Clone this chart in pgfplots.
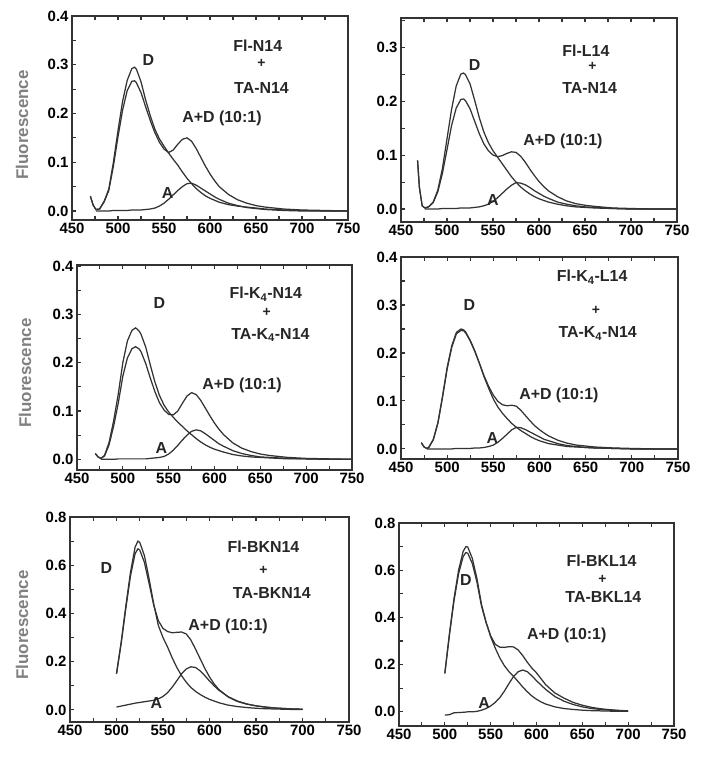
\documentclass[border=0pt]{standalone}
\usepackage{fontspec}
\setmainfont{Liberation Sans}
\usepackage{pgfplots}
\usepackage{pgfplotstable}
\pgfplotsset{compat=1.18}

\pgfplotstableread{
x D AD A
470 0.030 0.030 nan
473 0.012 0.012 nan
476 0.003 0.003 0.000
480 0.004 0.004 0.000
485 0.020 0.019 0.000
490 0.045 0.042 0.000
495 0.100 0.092 0.001
500 0.165 0.152 0.001
505 0.225 0.207 0.001
510 0.268 0.247 0.001
515 0.292 0.266 0.002
518 0.295 0.267 0.002
520 0.291 0.263 0.002
525 0.265 0.243 0.002
530 0.228 0.214 0.003
535 0.196 0.186 0.004
540 0.168 0.161 0.006
545 0.148 0.141 0.010
550 0.133 0.127 0.016
555 0.119 0.120 0.024
560 0.106 0.125 0.033
565 0.094 0.137 0.042
570 0.080 0.147 0.050
575 0.067 0.150 0.056
580 0.056 0.143 0.057
585 0.046 0.128 0.053
590 0.038 0.110 0.047
595 0.031 0.092 0.041
600 0.026 0.076 0.035
605 0.022 0.062 0.029
610 0.018 0.050 0.024
620 0.013 0.034 0.016
630 0.010 0.023 0.011
640 0.008 0.016 0.007
650 0.006 0.011 0.005
660 0.004 0.008 0.003
680 0.002 0.004 0.001
700 0.001 0.002 0.000
725 0.000 0.001 0.000
750 0.000 0.000 0.000
}\tabA

\pgfplotstableread{
x D AD A
468 0.090 0.090 nan
470 0.040 0.040 nan
473 0.006 0.006 nan
476 0.002 0.002 0.000
480 0.004 0.004 0.000
485 0.013 0.012 0.000
490 0.035 0.032 0.000
495 0.075 0.066 0.001
500 0.130 0.110 0.001
505 0.185 0.155 0.001
510 0.228 0.187 0.001
515 0.250 0.203 0.002
518 0.252 0.204 0.002
520 0.249 0.201 0.002
525 0.232 0.186 0.002
530 0.202 0.163 0.003
535 0.170 0.140 0.004
540 0.143 0.121 0.006
545 0.123 0.108 0.009
550 0.108 0.100 0.014
555 0.096 0.097 0.021
560 0.084 0.099 0.029
565 0.072 0.103 0.037
570 0.060 0.106 0.044
575 0.050 0.105 0.049
580 0.041 0.098 0.048
585 0.034 0.087 0.045
590 0.028 0.074 0.040
595 0.023 0.062 0.034
600 0.019 0.051 0.029
605 0.016 0.042 0.024
610 0.013 0.034 0.020
620 0.009 0.023 0.013
630 0.006 0.015 0.009
640 0.004 0.010 0.006
650 0.003 0.007 0.004
660 0.002 0.005 0.003
680 0.001 0.002 0.001
700 0.000 0.001 0.000
725 0.000 0.000 0.000
750 0.000 0.000 0.000
}\tabB

\pgfplotstableread{
x D AD A
470 0.012 0.012 nan
473 0.005 0.005 nan
476 0.002 0.002 0.000
480 0.008 0.007 0.000
485 0.035 0.030 0.000
490 0.080 0.069 0.000
495 0.135 0.116 0.001
500 0.200 0.172 0.001
505 0.245 0.210 0.001
510 0.267 0.229 0.001
514 0.272 0.233 0.001
518 0.265 0.228 0.001
520 0.258 0.222 0.001
525 0.232 0.198 0.001
530 0.195 0.168 0.002
535 0.160 0.140 0.003
540 0.132 0.117 0.004
545 0.112 0.102 0.006
550 0.098 0.093 0.011
555 0.087 0.092 0.019
560 0.077 0.100 0.029
565 0.068 0.116 0.040
570 0.059 0.131 0.050
575 0.051 0.138 0.058
580 0.043 0.134 0.061
585 0.036 0.122 0.059
590 0.030 0.106 0.053
595 0.025 0.090 0.046
600 0.021 0.075 0.039
605 0.018 0.062 0.032
610 0.015 0.051 0.027
620 0.010 0.034 0.018
630 0.007 0.023 0.012
640 0.005 0.016 0.008
650 0.004 0.011 0.005
660 0.003 0.008 0.004
680 0.001 0.004 0.002
700 0.001 0.002 0.001
725 0.000 0.001 0.000
750 0.000 0.000 0.000
}\tabC

\pgfplotstableread{
x D AD A
472 0.013 0.013 nan
475 0.004 0.004 nan
478 0.001 0.001 0.000
480 0.003 0.003 0.000
485 0.020 0.019 0.000
490 0.055 0.054 0.000
495 0.110 0.108 0.000
500 0.170 0.167 0.000
505 0.215 0.212 0.000
510 0.243 0.240 0.001
515 0.250 0.247 0.001
518 0.248 0.246 0.001
520 0.244 0.242 0.001
525 0.226 0.225 0.001
530 0.204 0.203 0.002
535 0.178 0.178 0.002
540 0.150 0.152 0.003
545 0.126 0.130 0.005
550 0.104 0.112 0.008
555 0.087 0.099 0.014
560 0.074 0.092 0.022
565 0.063 0.090 0.031
570 0.053 0.091 0.040
575 0.045 0.089 0.045
580 0.038 0.080 0.044
585 0.032 0.069 0.040
590 0.026 0.058 0.035
595 0.021 0.048 0.030
600 0.017 0.040 0.025
605 0.014 0.033 0.020
610 0.011 0.027 0.017
620 0.008 0.018 0.011
630 0.005 0.012 0.007
640 0.004 0.008 0.005
650 0.003 0.006 0.003
660 0.002 0.004 0.002
680 0.001 0.002 0.001
700 0.000 0.001 0.000
725 0.000 0.000 0.000
750 0.000 0.000 0.000
}\tabD

\pgfplotstableread{
x D AD A
500 0.150 0.150 0.012
505 0.280 0.275 0.016
510 0.430 0.420 0.020
515 0.570 0.555 0.024
520 0.675 0.648 0.028
523 0.700 0.668 0.030
525 0.695 0.663 0.031
530 0.640 0.612 0.034
535 0.545 0.525 0.037
540 0.440 0.435 0.040
545 0.350 0.370 0.046
550 0.300 0.338 0.056
555 0.260 0.325 0.072
560 0.215 0.320 0.095
565 0.175 0.322 0.122
570 0.142 0.323 0.150
575 0.115 0.315 0.170
580 0.093 0.290 0.179
585 0.077 0.252 0.176
590 0.064 0.212 0.162
595 0.053 0.172 0.142
600 0.044 0.137 0.120
605 0.037 0.108 0.100
610 0.030 0.085 0.082
620 0.020 0.054 0.055
630 0.014 0.035 0.037
640 0.010 0.024 0.025
650 0.007 0.017 0.017
660 0.005 0.012 0.012
670 0.004 0.008 0.008
680 0.003 0.006 0.006
690 0.002 0.004 0.004
700 0.002 0.003 0.003
}\tabE

\pgfplotstableread{
x D AD A
500 0.163 0.163 -0.014
505 0.330 0.325 -0.012
510 0.480 0.470 -0.004
515 0.600 0.585 -0.003
520 0.680 0.658 -0.002
523 0.700 0.675 -0.001
525 0.698 0.672 0.000
530 0.650 0.628 0.000
535 0.565 0.550 0.002
540 0.455 0.448 0.007
545 0.380 0.378 0.014
550 0.318 0.322 0.025
555 0.270 0.286 0.040
560 0.228 0.274 0.060
565 0.195 0.273 0.088
570 0.170 0.276 0.120
575 0.150 0.275 0.150
580 0.128 0.262 0.170
585 0.105 0.238 0.177
590 0.085 0.210 0.170
595 0.067 0.185 0.152
600 0.053 0.165 0.132
605 0.042 0.140 0.113
610 0.033 0.115 0.095
620 0.021 0.080 0.065
630 0.014 0.058 0.045
640 0.010 0.040 0.031
650 0.007 0.028 0.021
660 0.005 0.019 0.014
670 0.004 0.013 0.010
680 0.003 0.009 0.007
690 0.002 0.006 0.005
700 0.002 0.004 0.004
}\tabF

\pgfplotsset{
  fretpanel/.style={
    scale only axis,
    anchor=north west,
    clip=false,
    axis on top,
    xmin=450, xmax=750,
    xtick={450,500,550,600,650,700,750},
    minor xtick={475,525,575,625,675,725},
    axis line style={line width=1.5pt, black!80},
    major tick length=4.5pt, minor tick length=4.5pt,
    tick align=inside,
    tick style={line width=1.1pt, black!80},
    ytick pos=left,
    tick label style={font=\bfseries\fontsize{15}{15}\selectfont},
    yticklabel={\pgfmathprintnumber[fixed,fixed zerofill,precision=1,assume math mode=true]{\tick}},
    xticklabel={\pgfmathprintnumber[fixed,precision=0,set thousands separator={},assume math mode=true]{\tick}},
  },
  fretcurve/.style={black!80, line width=1.25pt, no markers, unbounded coords=jump},
  fretframe/.style={black!80, line width=1.5pt, no markers},
}
\tikzset{ann/.style={font=\bfseries\fontsize{16}{16}\selectfont, text=black!85, inner sep=0pt},
         pluslab/.style={font=\bfseries\fontsize{14}{14}\selectfont, text=black!85, inner sep=0pt},
         ylab/.style={rotate=90, font=\bfseries\fontsize{17}{17}\selectfont, text=black!50}}

\begin{document}
\begin{tikzpicture}
\path[use as bounding box] (0,0) rectangle (702bp,761bp);

% Panel 1
\begin{axis}[fretpanel, at={(72bp,745bp)}, width=276bp, height=204bp,
  ymin=-0.0185, ymax=0.4, ytick={0,0.1,0.2,0.3,0.4}, minor ytick={0.05,0.15,0.25,0.35}]
\addplot[fretcurve] table[x=x,y=D] {\tabA};
\addplot[fretcurve] table[x=x,y=AD] {\tabA};
\addplot[fretcurve] table[x=x,y=A] {\tabA};
\addplot[fretframe] coordinates {(450,-0.0185) (750,-0.0185) (750,0.4) (450,0.4) (450,-0.0185)};
\node[ann] at (axis cs:652,0.339) {Fl-N14};
\node[pluslab] at (axis cs:656,0.303) {+};
\node[ann] at (axis cs:656,0.252) {TA-N14};
\node[ann] at (axis cs:533,0.310) {D};
\node[ann] at (axis cs:613,0.190) {A+D (10:1)};
\node[ann] at (axis cs:554,0.036) {A};
\end{axis}

% Panel 2
\begin{axis}[fretpanel, at={(401bp,743bp)}, width=276bp, height=204bp,
  ymin=-0.024, ymax=0.354, ytick={0,0.1,0.2,0.3}, minor ytick={0.05,0.15,0.25,0.35}]
\addplot[fretcurve] table[x=x,y=D] {\tabB};
\addplot[fretcurve] table[x=x,y=AD] {\tabB};
\addplot[fretcurve] table[x=x,y=A] {\tabB};
\addplot[fretframe] coordinates {(450,-0.024) (750,-0.024) (750,0.354) (450,0.354) (450,-0.024)};
\node[ann] at (axis cs:651,0.294) {Fl-L14};
\node[pluslab] at (axis cs:658,0.264) {+};
\node[ann] at (axis cs:655,0.224) {TA-N14};
\node[ann] at (axis cs:530,0.267) {D};
\node[ann] at (axis cs:626,0.125) {A+D (10:1)};
\node[ann] at (axis cs:550,0.017) {A};
\end{axis}

% Panel 3
\begin{axis}[fretpanel, at={(77bp,496bp)}, width=275bp, height=205bp,
  ymin=-0.022, ymax=0.402, ytick={0,0.1,0.2,0.3,0.4}, minor ytick={0.05,0.15,0.25,0.35}]
\addplot[fretcurve] table[x=x,y=D] {\tabC};
\addplot[fretcurve] table[x=x,y=AD] {\tabC};
\addplot[fretcurve] table[x=x,y=A] {\tabC};
\addplot[fretframe] coordinates {(450,-0.022) (750,-0.022) (750,0.402) (450,0.402) (450,-0.022)};
\node[ann] at (axis cs:656,0.342) {Fl-K\textsubscript{4}-N14};
\node[pluslab] at (axis cs:657,0.304) {+};
\node[ann] at (axis cs:661,0.257) {TA-K\textsubscript{4}-N14};
\node[ann] at (axis cs:540,0.323) {D};
\node[ann] at (axis cs:630,0.154) {A+D (10:1)};
\node[ann] at (axis cs:542,0.023) {A};
\end{axis}

% Panel 4
\begin{axis}[fretpanel, at={(401bp,504bp)}, width=277bp, height=202bp,
  ymin=-0.021, ymax=0.4, ytick={0,0.1,0.2,0.3,0.4}, minor ytick={0.05,0.15,0.25,0.35}]
\addplot[fretcurve] table[x=x,y=D] {\tabD};
\addplot[fretcurve] table[x=x,y=AD] {\tabD};
\addplot[fretcurve] table[x=x,y=A] {\tabD};
\addplot[fretframe] coordinates {(450,-0.021) (750,-0.021) (750,0.4) (450,0.4) (450,-0.021)};
\node[ann] at (axis cs:657,0.358) {Fl-K\textsubscript{4}-L14};
\node[pluslab] at (axis cs:661,0.289) {+};
\node[ann] at (axis cs:663,0.240) {TA-K\textsubscript{4}-N14};
\node[ann] at (axis cs:524,0.299) {D};
\node[ann] at (axis cs:621,0.112) {A+D (10:1)};
\node[ann] at (axis cs:549,0.022) {A};
\end{axis}

% Panel 5
\begin{axis}[fretpanel, at={(70bp,244bp)}, width=279bp, height=205bp,
  ymin=-0.05, ymax=0.8, ytick={0,0.2,0.4,0.6,0.8}, minor ytick={0.1,0.3,0.5,0.7}]
\addplot[fretcurve] table[x=x,y=D] {\tabE};
\addplot[fretcurve] table[x=x,y=AD] {\tabE};
\addplot[fretcurve] table[x=x,y=A] {\tabE};
\addplot[fretframe] coordinates {(450,-0.05) (750,-0.05) (750,0.8) (450,0.8) (450,-0.05)};
\node[ann] at (axis cs:658,0.676) {Fl-BKN14};
\node[pluslab] at (axis cs:658,0.580) {+};
\node[ann] at (axis cs:667,0.483) {TA-BKN14};
\node[ann] at (axis cs:489,0.587) {D};
\node[ann] at (axis cs:620,0.348) {A+D (10:1)};
\node[ann] at (axis cs:543,0.028) {A};
\end{axis}

% Panel 6
\begin{axis}[fretpanel, at={(399bp,238bp)}, width=275bp, height=203bp,
  ymin=-0.06, ymax=0.8, ytick={0,0.2,0.4,0.6,0.8}, minor ytick={0.1,0.3,0.5,0.7}]
\addplot[fretcurve] table[x=x,y=D] {\tabF};
\addplot[fretcurve] table[x=x,y=AD] {\tabF};
\addplot[fretcurve] table[x=x,y=A] {\tabF};
\addplot[fretframe] coordinates {(450,-0.06) (750,-0.06) (750,0.8) (450,0.8) (450,-0.06)};
\node[ann] at (axis cs:671,0.640) {Fl-BKL14};
\node[pluslab] at (axis cs:672,0.562) {+};
\node[ann] at (axis cs:673,0.487) {TA-BKL14};
\node[ann] at (axis cs:523,0.557) {D};
\node[ann] at (axis cs:633,0.325) {A+D (10:1)};
\node[ann] at (axis cs:543,0.036) {A};
\end{axis}

\node[ylab] at (22bp,636bp) {Fluorescence};
\node[ylab] at (25bp,388bp) {Fluorescence};
\node[ylab] at (22bp,136bp) {Fluorescence};
\end{tikzpicture}
\end{document}
